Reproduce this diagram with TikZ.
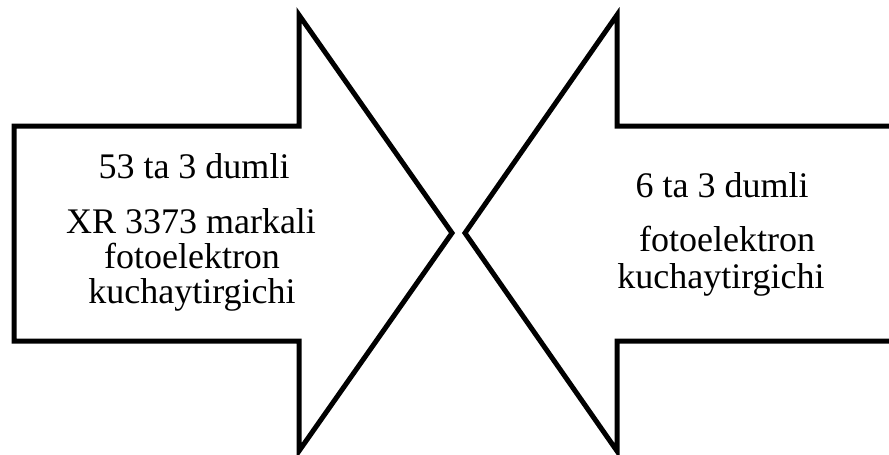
\documentclass[tikz,border=0pt]{standalone}
\usepackage{fontspec}
\setmainfont{Liberation Serif}
\begin{document}
\begin{tikzpicture}[x=1pt,y=-1pt,
  arrowshape/.style={draw=black,line width=5pt,line join=miter},
  lbl/.style={anchor=base,inner sep=0pt,font=\fontsize{36}{38}\selectfont}]
\useasboundingbox (0,0) rectangle (889,455);
\draw[arrowshape] (14,126) -- (299,126) -- (299,15) -- (452,233) -- (299,451) -- (299,341) -- (14,341) -- cycle;
\draw[arrowshape] (895,126) -- (617,126) -- (617,15) -- (465,233) -- (617,451) -- (617,341) -- (895,341);
\node[lbl] (l1) at (194,178) {53 ta 3 dumli};
\node[lbl] (l2) at (191,233) {XR 3373 markali};
\node[lbl] (l3) at (192,268) {fotoelektron};
\node[lbl] (l4) at (192,303) {kuchaytirgichi};
\node[lbl] (r1) at (722,197) {6 ta 3 dumli};
\node[lbl] (r2) at (727,251) {fotoelektron};
\node[lbl] (r3) at (721,288) {kuchaytirgichi};
\end{tikzpicture}
\end{document}
